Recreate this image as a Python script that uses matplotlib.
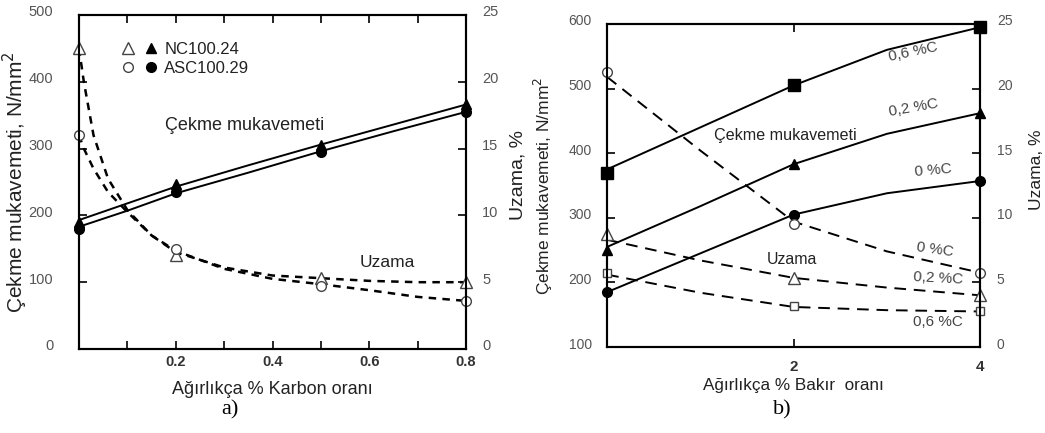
import numpy as np
import matplotlib.pyplot as plt
from matplotlib.legend_handler import HandlerTuple
import matplotlib.transforms as mtransforms

plt.rcParams['font.family'] = ['Liberation Sans', 'DejaVu Sans']

# ---------------- a) Karbon oranı ----------------
c_pts = [0.0, 0.2, 0.5, 0.8]
nc_cekme = [190, 247, 305, 367]
asc_cekme = [180, 235, 295, 355]
nc_uzama = [22.5, 7.0, 5.3, 5.0]
asc_uzama = [16.0, 7.5, 4.75, 3.6]

# egri yollari (resimden okunan ara noktalar)
c_curve = [0.0, 0.01, 0.03, 0.06, 0.1, 0.15, 0.2, 0.3, 0.4, 0.5, 0.6, 0.7, 0.8]
nc_uzama_curve = [22.5, 20.0, 16.0, 12.75, 10.4, 8.5, 7.25, 6.1, 5.5, 5.3, 5.1, 5.0, 5.0]
asc_uzama_curve = [16.0, 15.0, 13.5, 11.75, 10.25, 8.5, 7.35, 6.0, 5.25, 4.85, 4.4, 3.9, 3.6]
c_line = [0.0, 0.1, 0.2, 0.35, 0.5, 0.65, 0.8]
nc_cekme_line = [193, 218, 243, 275, 306, 336, 366]
asc_cekme_line = [183, 207, 233, 264, 296, 326, 355]

# ---------------- b) Bakır oranı ----------------
cu_pts = [0, 2, 4]
c0_cekme = [185, 305, 357]
c02_cekme = [250, 383, 462]
c06_cekme = [370, 505, 595]
c0_uzama = [21.25, 9.5, 5.75]
c02_uzama = [8.75, 5.35, 4.0]
c06_uzama = [5.75, 3.15, 2.75]

cu_curve = [0, 1, 2, 3, 4]
c0_cekme_line = [185, 245, 305, 338, 357]
c02_cekme_line = [255, 318, 383, 430, 462]
c06_cekme_line = [375, 440, 505, 560, 595]
c0_uzama_line = [20.9, 15.2, 9.7, 7.4, 5.75]
c02_uzama_line = [8.3, 6.7, 5.35, 4.6, 4.0]
c06_uzama_line = [5.6, 4.2, 3.1, 2.85, 2.75]

txt = '#222222'
tick_col = '#555555'

fig = plt.figure(figsize=(10.45, 4.33), dpi=100)
ax1 = fig.add_axes([0.0756, 0.194, 0.3704, 0.7714])
ax1r = ax1.twinx()
ax2 = fig.add_axes([0.581, 0.1986, 0.357, 0.746])
ax2r = ax2.twinx()

for ax in (ax1, ax1r, ax2, ax2r):
    for s in ax.spines.values():
        s.set_linewidth(1.5)

# ---- panel a ----
ax1.plot(c_line, nc_cekme_line, color='black', lw=1.4)
ax1.plot(c_line, asc_cekme_line, color='black', lw=1.4)
h_nc_f, = ax1.plot(c_pts, nc_cekme, '^', color='black', ms=7, ls='none', clip_on=False)
h_asc_f, = ax1.plot(c_pts, asc_cekme, 'o', color='black', ms=7, ls='none', clip_on=False)

ax1r.plot(c_curve, nc_uzama_curve, color='black', lw=1.8, ls=(0, (3, 2.5)))
ax1r.plot(c_curve, asc_uzama_curve, color='black', lw=1.8, ls=(0, (3, 2.5)))
h_nc_o, = ax1r.plot(c_pts, nc_uzama, '^', mfc='white', mec='#444444', ms=8, ls='none', clip_on=False)
h_asc_o, = ax1r.plot(c_pts, asc_uzama, 'o', mfc='white', mec='#444444', ms=7, ls='none', clip_on=False)

ax1.set_xlim(0, 0.8)
ax1.set_ylim(0, 500)
ax1r.set_ylim(0, 25)
ax1.set_xticks(np.arange(0.1, 0.81, 0.1))
ax1.set_xticklabels(['', '0.2', '', '0.4', '', '0.6', '', '0.8'])
ax1.set_yticks([0, 100, 200, 300, 400, 500])
ax1r.set_yticks([0, 5, 10, 15, 20, 25])
ax1.tick_params(axis='x', direction='in', top=True, length=6, width=1.2, pad=4,
                labelsize=10.5, labelcolor='#333333')
ax1.tick_params(axis='y', direction='in', length=6, width=1.2, pad=18.5,
                labelsize=10.5, labelcolor=tick_col)
ax1r.tick_params(axis='y', direction='in', length=6, width=1.2, pad=11.5,
                 labelsize=10.5, labelcolor=tick_col)
for lab in ax1.get_xticklabels():
    lab.set_fontweight('bold')

ax1.set_xlabel('Ağırlıkça % Karbon oranı', fontsize=13, color=txt, labelpad=9)
ax1.set_ylabel('Çekme mukavemeti, N/mm$^2$', fontsize=15, color=txt)
ax1r.set_ylabel('Uzama, %', fontsize=14, color=txt)
ax1.yaxis.set_label_coords(-0.126, 0.5)
ax1r.yaxis.set_label_coords(1.111, 0.52)

ax1.text(0.343, 335, 'Çekme mukavemeti', fontsize=13, color=txt, ha='center', va='center')
ax1.text(0.637, 129, 'Uzama', fontsize=12.5, color=txt, ha='center', va='center')

ax1.legend([(h_nc_o, h_nc_f), (h_asc_o, h_asc_f)], ['NC100.24', 'ASC100.29'],
           handler_map={tuple: HandlerTuple(ndivide=None, pad=0.6)},
           loc='upper left', bbox_to_anchor=(0.07, 0.965), frameon=False,
           fontsize=12, handlelength=2.2, handletextpad=0.4, labelspacing=0.25,
           labelcolor=txt)

# ---- panel b ----
for yl in (c06_cekme_line, c02_cekme_line, c0_cekme_line):
    ax2.plot(cu_curve, yl, color='black', lw=1.4)
ax2.plot(cu_pts, c06_cekme, 's', color='black', ms=8, ls='none', clip_on=False)
ax2.plot(cu_pts, c02_cekme, '^', color='black', ms=7, ls='none', clip_on=False)
ax2.plot(cu_pts, c0_cekme, 'o', color='black', ms=7, ls='none', clip_on=False)

for yl in (c0_uzama_line, c02_uzama_line, c06_uzama_line):
    ax2r.plot(cu_curve, yl, color='black', lw=1.4, ls=(0, (6, 4)))
ax2r.plot(cu_pts, c0_uzama, 'o', mfc='white', mec='#444444', ms=7, ls='none', clip_on=False)
ax2r.plot(cu_pts, c02_uzama, '^', mfc='white', mec='#444444', ms=8, ls='none', clip_on=False)
ax2r.plot(cu_pts, c06_uzama, 's', mfc='white', mec='#444444', ms=6, ls='none', clip_on=False)

ax2.set_xlim(0, 4)
ax2.set_ylim(100, 600)
ax2r.set_ylim(0, 25)
ax2.set_xticks([2, 4])
ax2.set_yticks([100, 200, 300, 400, 500, 600])
ax2r.set_yticks([0, 5, 10, 15, 20, 25])
ax2.tick_params(axis='x', direction='in', top=True, length=6, width=1.2, pad=9,
                labelsize=11, labelcolor='#333333')
ax2.tick_params(axis='y', direction='in', length=6, width=1.2, pad=11,
                labelsize=10, labelcolor=tick_col)
ax2r.tick_params(axis='y', direction='in', length=6, width=1.2, pad=12,
                 labelsize=10, labelcolor=tick_col)
for lab in ax2.get_xticklabels():
    lab.set_fontweight('bold')

ax2.set_xlabel('Ağırlıkça % Bakır  oranı', fontsize=12.3, color=txt, labelpad=3)
ax2.set_ylabel('Çekme mukavemeti, N/mm$^2$', fontsize=12.5, color=txt)
ax2r.set_ylabel('Uzama, %', fontsize=12.5, color=txt)
ax2.yaxis.set_label_coords(-0.139, 0.5)
ax2r.yaxis.set_label_coords(1.131, 0.55)

ax2.text(1.91, 428, 'Çekme mukavemeti', fontsize=11.6, color=txt, ha='center', va='center')
ax2.text(1.98, 235, 'Uzama', fontsize=11.4, color=txt, ha='center', va='center')
ax2.text(3.28, 557, '0,6 %C', fontsize=11, color='#444444', ha='center', va='center', rotation=12)
ax2.text(3.28, 470, '0,2 %C', fontsize=11, color='#444444', ha='center', va='center', rotation=10)
ax2.text(3.5, 374, '0 %C', fontsize=11, color='#444444', ha='center', va='center', rotation=5)
ax2.text(3.52, 250, '0 %C', fontsize=11, color='#444444', ha='center', va='center', rotation=-8)
ax2.text(3.55, 207, '0,2 %C', fontsize=11, color='#444444', ha='center', va='center', rotation=-3)
ax2.text(3.55, 139, '0,6 %C', fontsize=11, color='#444444', ha='center', va='center')

# alt yazilar
fig.text(230 / 1045, 1 - 410 / 433, 'a)', fontsize=16, family='Liberation Serif',
         ha='center', va='center', color='black')
fig.text(782 / 1045, 1 - 410 / 433, 'b)', fontsize=16, family='Liberation Serif',
         ha='center', va='center', color='black')

# y etiketlerini biraz yukari kaydir
off = mtransforms.ScaledTranslation(0, 4 / 100, fig.dpi_scale_trans)
for ax in (ax1, ax1r, ax2, ax2r):
    for lab in ax.get_yticklabels():
        lab.set_transform(lab.get_transform() + off)

fig.savefig('out.png', dpi=100)
